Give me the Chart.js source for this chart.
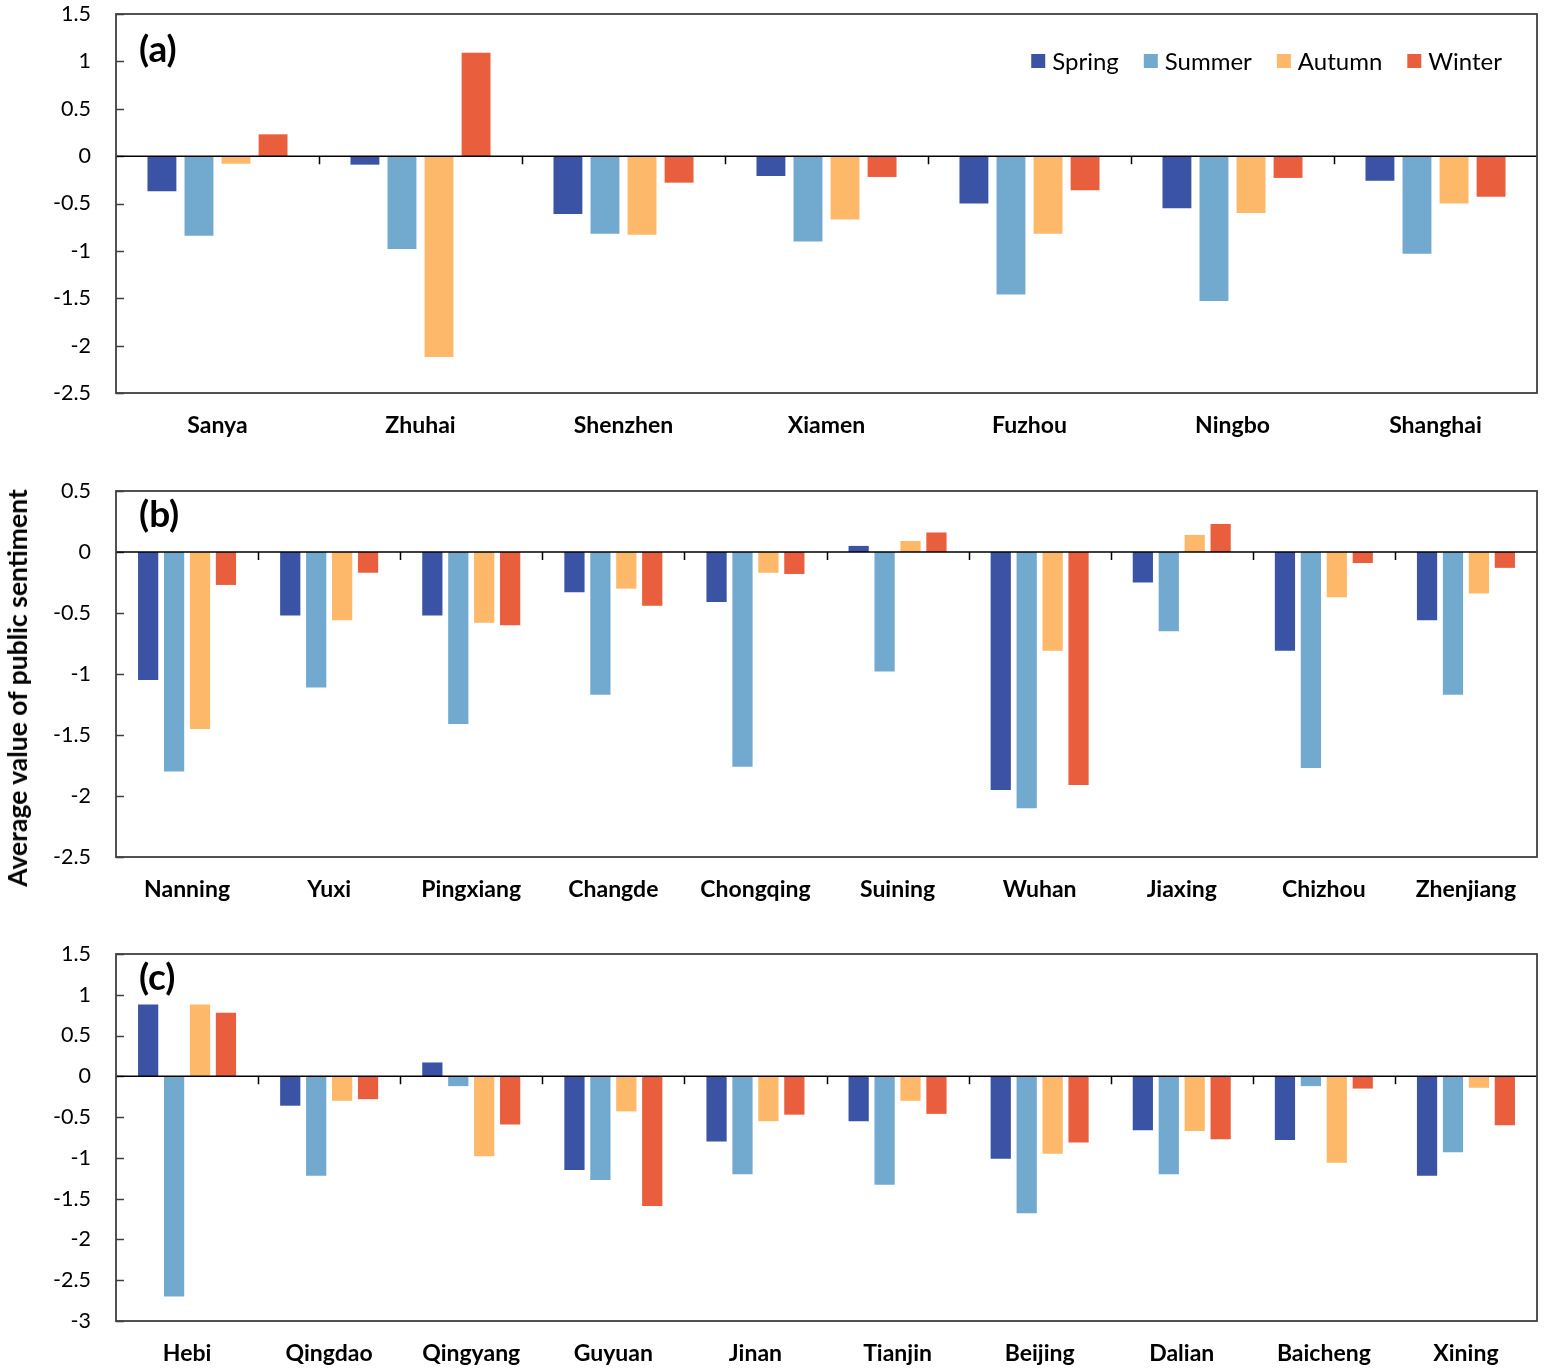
<!DOCTYPE html>
<html>
<head>
<meta charset="utf-8">
<script src="https://cdn.jsdelivr.net/npm/chart.js@4.4.1/dist/chart.umd.min.js"></script>
<style>
    html, body { margin: 0; padding: 0; background: #fff; overflow: hidden; }
    #page { position: relative; width: 1546px; height: 1372px; font-family: Lato, sans-serif; overflow: hidden; }
    .panel { position: absolute; left: 0; width: 1546px; }
    #ytitle {
        position: absolute; left: 17px; top: 688px;
        transform: translate(-50%, -50%) rotate(-90deg);
        white-space: nowrap; font: bold 26.5px Lato, sans-serif; color: #000;
    }
</style>
</head>
<body>
<div id="page">
    <div class="panel" style="top:-26px;height:471px"><canvas id="chartA"></canvas></div>
    <div class="panel" style="top:451px;height:459px"><canvas id="chartB"></canvas></div>
    <div class="panel" style="top:914px;height:458px"><canvas id="chartC"></canvas></div>
    <div id="ytitle">Average value of public sentiment</div>
</div>
<script>
// Mùa và màu
const seasons = ['Spring', 'Summer', 'Autumn', 'Winter'];
const seasonColors = ['#3A53A4', '#72A9CE', '#FDB869', '#E95E3D'];

// (a)
const citiesA = ['Sanya', 'Zhuhai', 'Shenzhen', 'Xiamen', 'Fuzhou', 'Ningbo', 'Shanghai'];
const springA = [-0.37, -0.09, -0.61, -0.21, -0.50, -0.55, -0.26];
const summerA = [-0.84, -0.98, -0.82, -0.90, -1.46, -1.53, -1.03];
const autumnA = [-0.08, -2.12, -0.83, -0.67, -0.82, -0.60, -0.50];
const winterA = [0.23, 1.09, -0.28, -0.22, -0.36, -0.23, -0.43];
const ticksA = [-2.5, 1.5];

// (b)
const citiesB = ['Nanning', 'Yuxi', 'Pingxiang', 'Changde', 'Chongqing', 'Suining', 'Wuhan', 'Jiaxing', 'Chizhou', 'Zhenjiang'];
const springB = [-1.05, -0.52, -0.52, -0.33, -0.41, 0.05, -1.95, -0.25, -0.81, -0.56];
const summerB = [-1.80, -1.11, -1.41, -1.17, -1.76, -0.98, -2.10, -0.65, -1.77, -1.17];
const autumnB = [-1.45, -0.56, -0.58, -0.30, -0.17, 0.09, -0.81, 0.14, -0.37, -0.34];
const winterB = [-0.27, -0.17, -0.60, -0.44, -0.18, 0.16, -1.91, 0.23, -0.09, -0.13];
const ticksB = [-2.5, 0.5];

// (c)
const citiesC = ['Hebi', 'Qingdao', 'Qingyang', 'Guyuan', 'Jinan', 'Tianjin', 'Beijing', 'Dalian', 'Baicheng', 'Xining'];
const springC = [0.88, -0.36, 0.17, -1.15, -0.80, -0.55, -1.01, -0.66, -0.78, -1.22];
const summerC = [-2.70, -1.22, -0.12, -1.27, -1.20, -1.33, -1.68, -1.20, -0.12, -0.93];
const autumnC = [0.88, -0.30, -0.98, -0.43, -0.55, -0.30, -0.95, -0.67, -1.06, -0.14];
const winterC = [0.78, -0.28, -0.59, -1.59, -0.47, -0.46, -0.81, -0.77, -0.15, -0.60];
const ticksC = [-3, 1.5];

// Vẽ khung, đường 0, vạch chia, nhãn (a)(b)(c), chú thích
const panelDecor = {
    id: 'panelDecor',
    afterDatasetsDraw(chart, args, opts) {
        const { ctx, chartArea: a, scales: { x, y } } = chart;
        const zeroY = y.getPixelForValue(0);
        ctx.save();

        // vạch trục y hướng vào trong
        ctx.strokeStyle = '#404040';
        ctx.lineWidth = 1.5;
        ctx.beginPath();
        y.ticks.forEach(function (t) {
            const py = Math.round(y.getPixelForValue(t.value)) + 0.5;
            ctx.moveTo(a.left, py);
            ctx.lineTo(a.left + 8, py);
        });
        ctx.stroke();

        // đường 0 và vạch giữa các thành phố
        ctx.strokeStyle = '#000';
        ctx.beginPath();
        ctx.moveTo(a.left, zeroY);
        ctx.lineTo(a.right, zeroY);
        const n = chart.data.labels.length;
        for (let i = 1; i < n; i++) {
            const px = Math.round((x.getPixelForValue(i - 1) + x.getPixelForValue(i)) / 2) + 0.5;
            ctx.moveTo(px, zeroY);
            ctx.lineTo(px, zeroY + 8);
        }
        ctx.stroke();

        // khung
        ctx.strokeStyle = '#404040';
        ctx.lineWidth = 1.8;
        ctx.strokeRect(a.left, a.top, a.right - a.left, a.bottom - a.top);

        // nhãn panel
        ctx.fillStyle = '#000';
        ctx.font = 'bold 37px Lato, sans-serif';
        ctx.textBaseline = 'middle';
        ctx.textAlign = 'left';
        ctx.fillText(opts.tag, a.left + 23, a.top + opts.tagDy);

        // chú thích
        if (opts.legend) {
            ctx.font = '24px Lato, sans-serif';
            const sets = chart.data.datasets;
            const widths = sets.map(function (d) { return 14 + 7 + ctx.measureText(d.label).width; });
            const total = widths.reduce(function (s, w) { return s + w; }, 0) + 25 * (sets.length - 1);
            let lx = a.right - 35 - total;
            const ly = a.top + 47;
            sets.forEach(function (d, i) {
                ctx.fillStyle = d.backgroundColor;
                ctx.fillRect(lx, ly - 7, 14, 14);
                ctx.fillStyle = '#000';
                ctx.fillText(d.label, lx + 21, ly + 1);
                lx += widths[i] + 25;
            });
        }
        ctx.restore();
    }
};

function makePanel(canvasId, cities, values, range, tag, tagDy, xAxisH, legend) {
    const ctx = document.getElementById(canvasId).getContext('2d');
    return new Chart(ctx, {
        type: 'bar',
        data: {
            labels: cities,
            datasets: seasons.map(function (s, i) {
                return {
                    label: s,
                    data: values[i],
                    backgroundColor: seasonColors[i],
                    borderWidth: 0,
                    categoryPercentage: 0.73,
                    barPercentage: 0.78
                };
            })
        },
        options: {
            responsive: true,
            maintainAspectRatio: false,
            animation: false,
            layout: { padding: { left: 0, right: 9, top: 40, bottom: 0 } },
            plugins: {
                legend: { display: false },
                tooltip: { enabled: false },
                panelDecor: { tag: tag, tagDy: tagDy, legend: legend }
            },
            scales: {
                x: {
                    offset: true,
                    grid: { display: false, drawTicks: false },
                    border: { display: false },
                    ticks: {
                        padding: 19,
                        color: '#000',
                        font: { family: 'Lato', size: 23, weight: 'bold' }
                    },
                    afterFit: function (scale) { scale.height = xAxisH; }
                },
                y: {
                    min: range[0],
                    max: range[1],
                    grid: { display: false, drawTicks: false },
                    border: { display: false },
                    ticks: {
                        stepSize: 0.5,
                        padding: 25,
                        color: '#000',
                        font: { family: 'Lato', size: 21.5 },
                        callback: function (v) { return String(Math.round(v * 10) / 10); }
                    },
                    afterFit: function (scale) { scale.width = 116; }
                }
            }
        },
        plugins: [panelDecor]
    });
}

document.addEventListener('DOMContentLoaded', function () {
    makePanel('chartA', citiesA, [springA, summerA, autumnA, winterA], ticksA, '(a)', 36, 52, true);
    makePanel('chartB', citiesB, [springB, summerB, autumnB, winterB], ticksB, '(b)', 24, 53, false);
    makePanel('chartC', citiesC, [springC, summerC, autumnC, winterC], ticksC, '(c)', 24, 51, false);
});
</script>
</body>
</html>
